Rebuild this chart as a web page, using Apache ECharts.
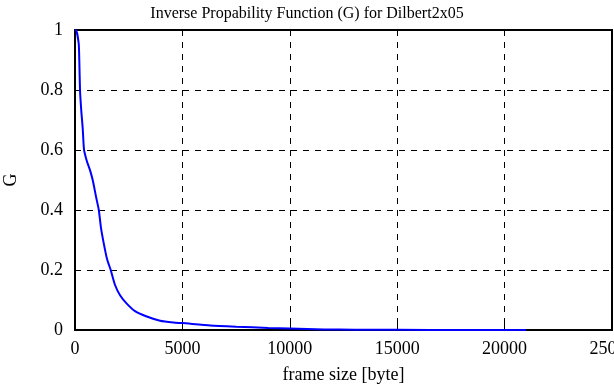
<!DOCTYPE html>
<html><head><meta charset="utf-8">
<script src="https://cdn.jsdelivr.net/npm/echarts@6/dist/echarts.min.js"></script>
<style>html,body{margin:0;padding:0;background:#fff}#c{width:614px;height:385px}</style>
</head><body><div id="c"></div>
<script>
const titleText = "Inverse Propability Function (G) for Dilbert2x05";
const xName = "frame size [byte]";
const yName = "G";
const xTicks = [0, 5000, 10000, 15000, 20000, 25000];
const yTicks = [0, 0.2, 0.4, 0.6, 0.8, 1];
const frameSize = [0, 47, 172, 200, 233, 294, 358, 420, 515, 600, 702, 827, 983, 1108, 1215, 1398, 1505, 1663, 1864, 2097, 2409, 2796, 3341, 3961, 4581, 5000, 6300, 7500, 9000, 10000, 11600, 13000, 15000, 18000, 21000];
const gValue = [1, 1.0, 0.955, 0.9, 0.8, 0.729, 0.673, 0.601, 0.572, 0.553, 0.532, 0.499, 0.443, 0.4, 0.338, 0.267, 0.233, 0.2, 0.15, 0.116, 0.088, 0.063, 0.045, 0.031, 0.025, 0.023, 0.015, 0.011, 0.007, 0.005, 0.002, 0.001, 0.0005, 0.0002, 0];

const font = "Liberation Serif";
const chart = echarts.init(document.getElementById('c'), null, {renderer: 'canvas'});
const tick = {show: true, inside: true, length: 6, lineStyle: {color: '#000', width: 1}};
chart.setOption({
  animation: false,
  backgroundColor: '#fff',
  title: {text: titleText, left: 'center', top: 1, textStyle: {fontFamily: font, fontSize: 16, fontWeight: 'normal', color: '#000'}},
  grid: {left: 75, top: 30, right: 2, bottom: 55, containLabel: false, outerBoundsMode: 'none',
    show: true, borderColor: '#000', borderWidth: 2, backgroundColor: 'transparent'},
  xAxis: [{
    type: 'value', min: xTicks[0], max: xTicks[xTicks.length - 1], interval: xTicks[1] - xTicks[0], position: 'bottom',
    name: xName, nameLocation: 'middle', nameGap: 36,
    nameTextStyle: {fontFamily: font, fontSize: 18, color: '#000'},
    axisLine: {show: true, onZero: false, lineStyle: {color: '#000', width: 2}}, axisTick: tick,
    axisLabel: {fontFamily: font, fontSize: 18, color: '#000', margin: 10, showMaxLabel: true, formatter: v => String(v)},
    splitLine: {show: true, lineStyle: {color: '#000', type: [6, 6], width: 1}}
  }],
  yAxis: [{
    type: 'value', min: yTicks[0], max: yTicks[yTicks.length - 1], interval: yTicks[1] - yTicks[0], position: 'left',
    name: yName, nameLocation: 'middle', nameGap: 55, nameRotate: 90,
    nameTextStyle: {fontFamily: font, fontSize: 18, color: '#000'},
    axisLine: {show: true, onZero: false, lineStyle: {color: '#000', width: 2}}, axisTick: tick,
    axisLabel: {fontFamily: font, fontSize: 18, color: '#000', margin: 12, formatter: v => String(v)},
    splitLine: {show: true, lineStyle: {color: '#000', type: [6, 6], width: 1}}
  }],
  series: [{
    type: 'line',
    data: frameSize.map((x, i) => [x, gValue[i]]),
    showSymbol: false, smooth: 0.2,
    lineStyle: {color: '#0000ff', width: 2}
  }]
});
</script></body></html>
